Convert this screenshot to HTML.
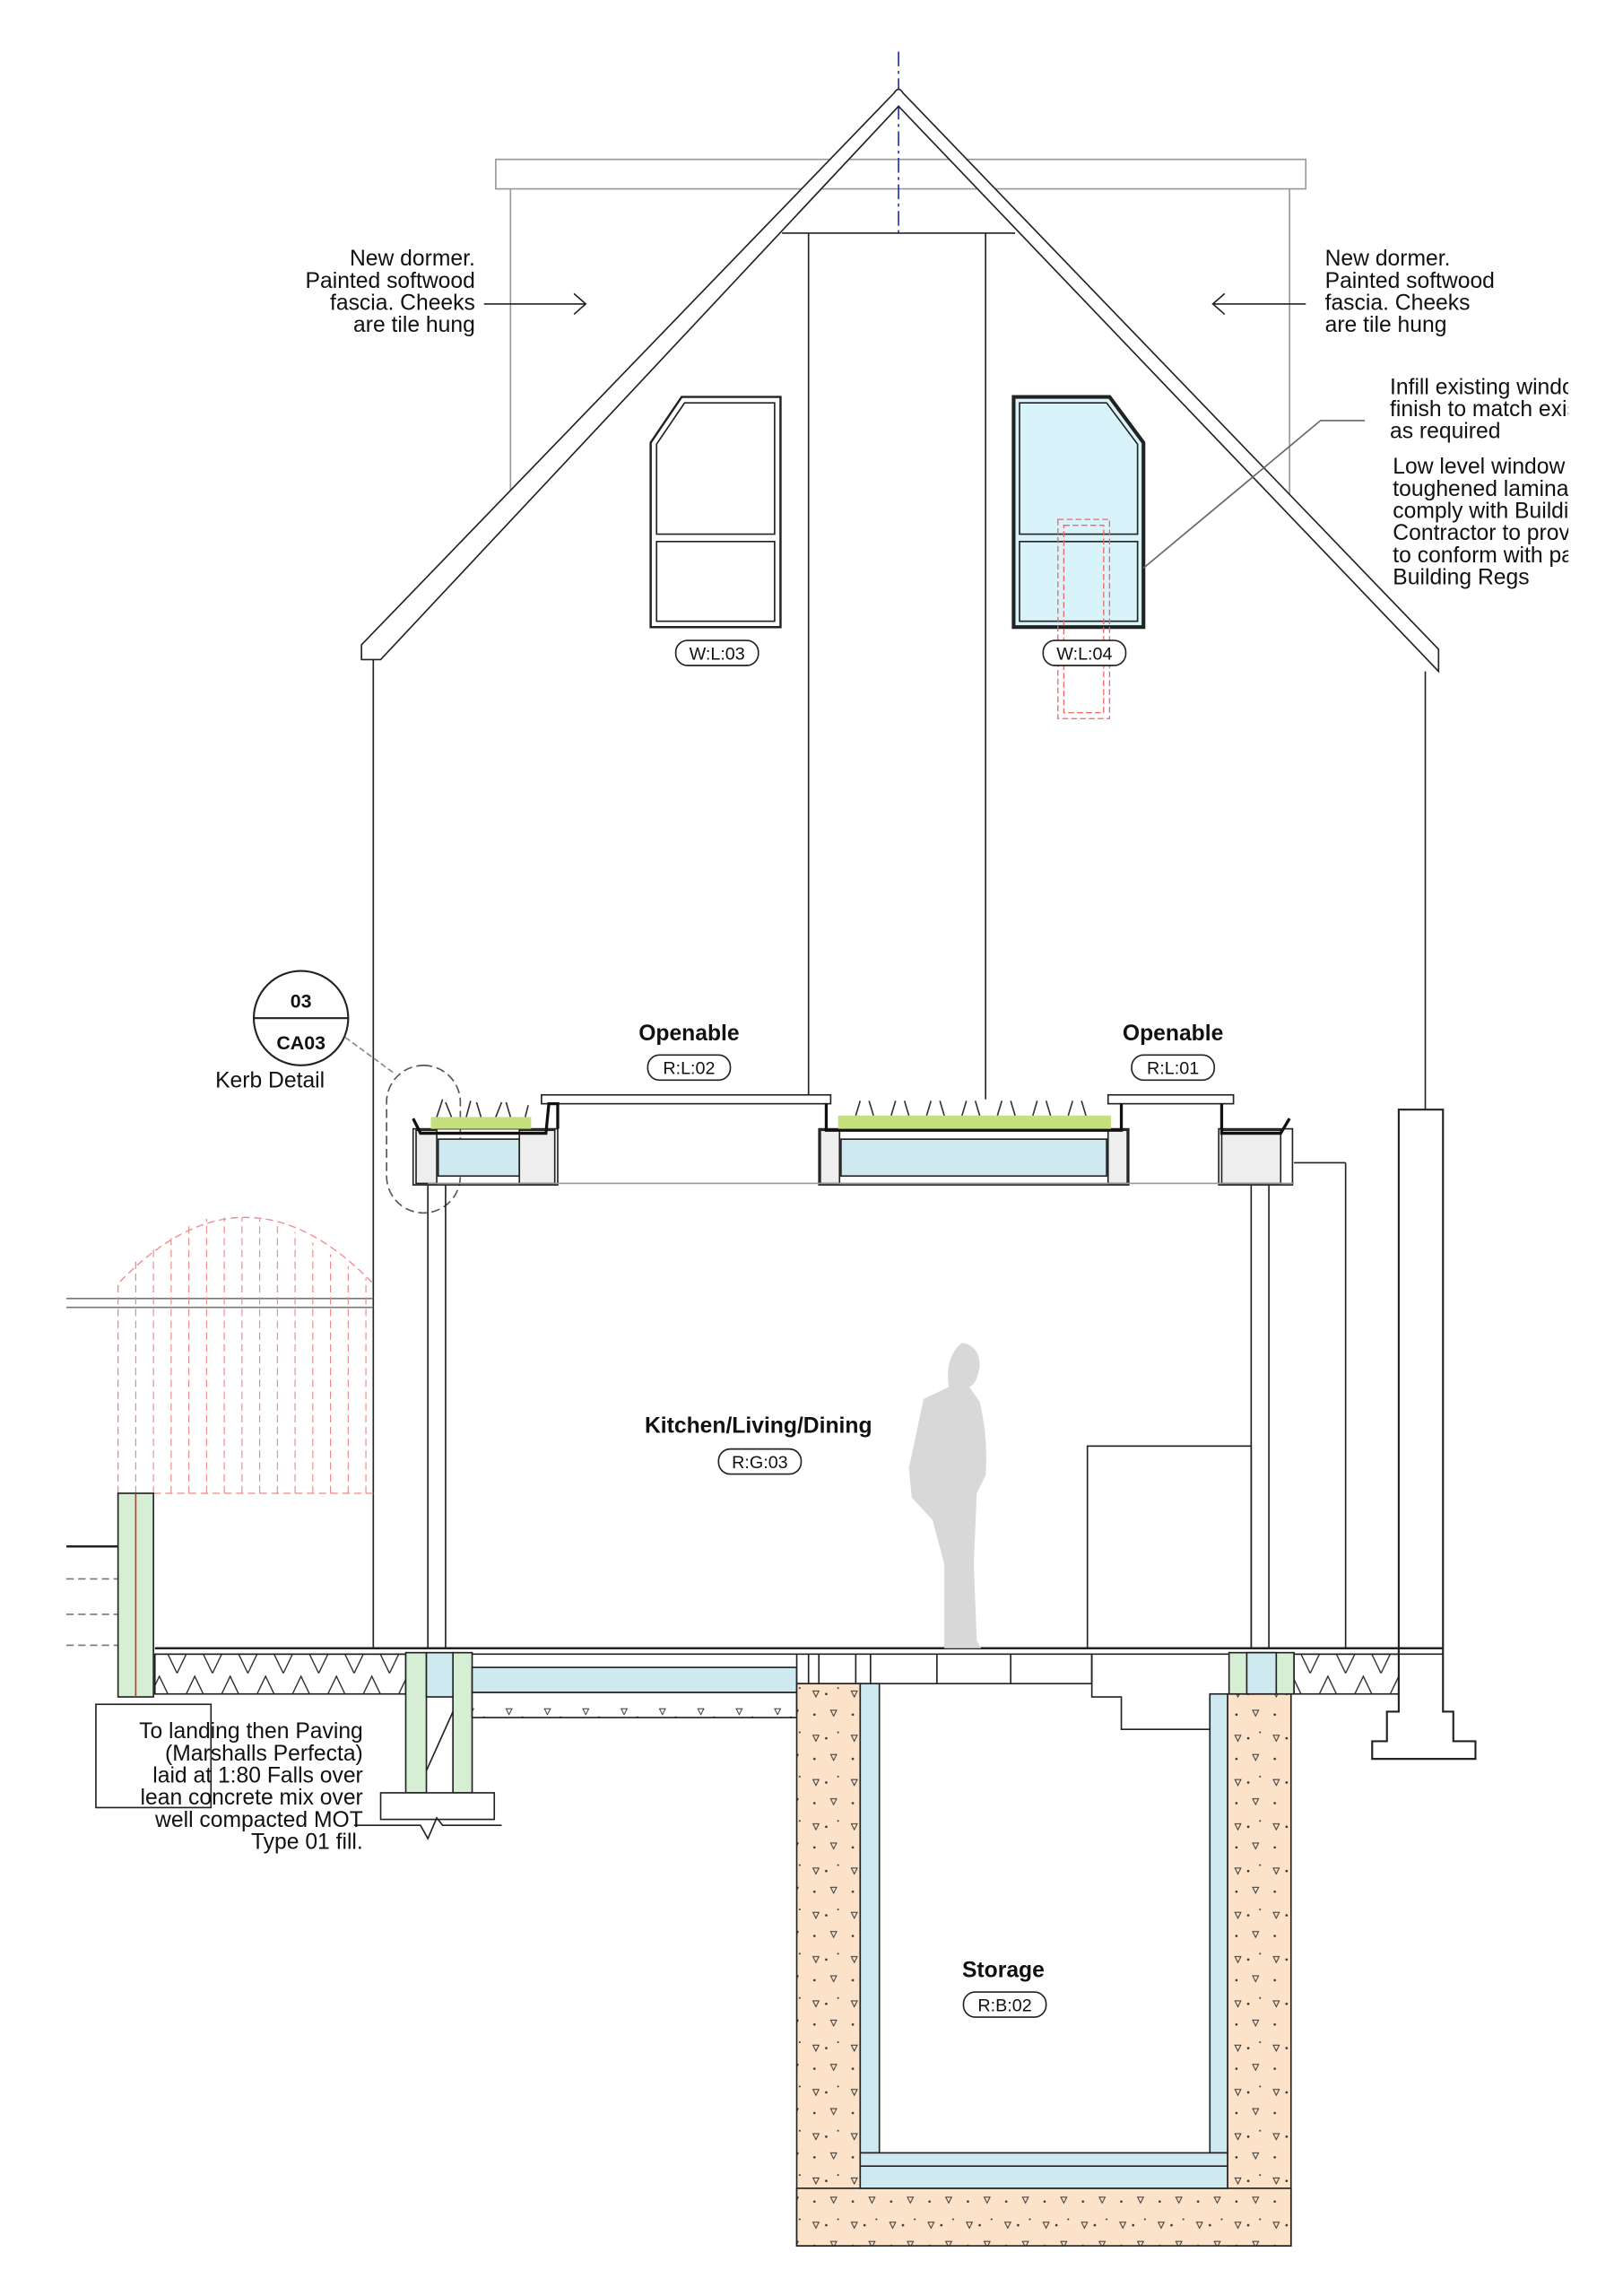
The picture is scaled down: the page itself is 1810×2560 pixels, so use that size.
<!DOCTYPE html>
<html><head><meta charset="utf-8"><style>
html,body{margin:0;padding:0;background:#fff;}
svg{display:block;}
text{font-family:"Liberation Sans Narrow","Liberation Sans",sans-serif;fill:#111;}
.b{font-weight:bold;}
</style></head><body>
<svg width="1810" height="2560" viewBox="0 0 1100 1556" preserveAspectRatio="none" xmlns="http://www.w3.org/2000/svg">
<defs>
<clipPath id="cr"><rect x="0" y="0" width="1063" height="1556"/></clipPath>
<pattern id="zz" width="24" height="27" patternUnits="userSpaceOnUse"><path d="M0 27 L12 2 L24 27" fill="none" stroke="#222" stroke-width="0.8"/></pattern>
<pattern id="conc" width="26" height="30" patternUnits="userSpaceOnUse"><rect width="26" height="30" fill="#fbe2c8"/><path d="M5 6 l4 0 l-2 4z M17 19 l4 0 l-2 4z" fill="none" stroke="#333" stroke-width="0.6"/><circle cx="14" cy="8" r="0.8" fill="#333"/><circle cx="6" cy="22" r="0.8" fill="#333"/><circle cx="22" cy="4" r="0.6" fill="#333"/></pattern>
<pattern id="conc2" width="26" height="18" patternUnits="userSpaceOnUse"><rect width="26" height="18" fill="#fff"/><path d="M5 6 l4 0 l-2 4z" fill="none" stroke="#333" stroke-width="0.6"/><circle cx="16" cy="12" r="0.8" fill="#333"/></pattern>
</defs>
<g fill="none" stroke="#222" stroke-width="1">
<!-- background parapet -->
<rect x="336" y="108" width="549" height="20" stroke="#999"/>
<line x1="346" y1="128" x2="346" y2="335" stroke="#999"/>
<line x1="874" y1="128" x2="874" y2="335" stroke="#999"/>
<!-- centre line -->
<line x1="609" y1="35" x2="609" y2="158" stroke="#2233aa" stroke-dasharray="10 3 2 3"/>
<!-- roof -->
<path d="M245 437 L606 63 Q609 58 612 63 L975 440 L975 455 L609 72 L258 447 L245 447 Z" fill="#fff"/>
<!-- dormer -->
<line x1="530" y1="158" x2="688" y2="158"/>
<line x1="548" y1="158" x2="548" y2="745"/>
<line x1="668" y1="158" x2="668" y2="745"/>
<!-- walls -->
<line x1="253" y1="447" x2="253" y2="1117"/>
<line x1="966" y1="455" x2="966" y2="752"/>
<!-- windows -->
<path d="M441 300 L462 269 L529 269 L529 425 L441 425 Z" stroke-width="1.5"/>
<path d="M445 301 L464 273 L525 273 L525 362 L445 362 Z"/>
<rect x="445" y="367" width="80" height="54"/>
<path d="M687 269 L752 269 L775 300 L775 425 L687 425 Z" fill="#d9f3fb" stroke-width="2.5"/>
<path d="M691 273 L750 273 L771 301 L771 362 L691 362 Z"/>
<rect x="691" y="367" width="80" height="54"/>
<rect x="717" y="352" width="35" height="135" stroke="#e66" stroke-dasharray="4 2" stroke-width="0.8"/>
<rect x="721" y="356" width="27" height="127" stroke="#e66" stroke-dasharray="4 2" stroke-width="0.8"/>
<rect x="458" y="434" width="56" height="17" rx="8"/>
<rect x="707" y="434" width="56" height="17" rx="8" fill="#fff"/>
<!-- arrows -->
<line x1="328" y1="206" x2="397" y2="206"/><path d="M389 199 L397 206 L389 213"/>
<line x1="885" y1="206" x2="822" y2="206"/><path d="M830 199 L822 206 L830 213"/>
<path d="M775 385 L895 285 L925 285" stroke="#666"/>
<!-- section marker -->
<circle cx="204" cy="690" r="32" stroke-width="1.3"/>
<line x1="172" y1="690" x2="236" y2="690" stroke-width="1.3"/>
<line x1="234" y1="703" x2="268" y2="728" stroke="#888" stroke-dasharray="4 2"/>
<rect x="262" y="722" width="50" height="100" rx="25" stroke="#555" stroke-dasharray="6 3"/>
<rect x="439" y="715" width="56" height="17" rx="8"/>
<rect x="767" y="715" width="56" height="17" rx="8"/>
<!-- rooflights -->
<rect x="367" y="742" width="196" height="6" fill="#fff"/>
<rect x="751" y="742" width="85" height="6" fill="#fff"/>
<!-- green roofs -->
<rect x="280" y="765" width="98" height="38"/>
<rect x="297" y="772" width="55" height="25" fill="#cfe9f1"/>
<rect x="352" y="766" width="24" height="36" fill="#eee"/>
<rect x="282" y="766" width="14" height="36" fill="#eee"/>
<rect x="555" y="765" width="210" height="38"/>
<rect x="570" y="772" width="180" height="25" fill="#cfe9f1"/>
<rect x="556" y="766" width="13" height="36" fill="#eee"/>
<rect x="751" y="766" width="13" height="36" fill="#eee"/>
<rect x="826" y="765" width="50" height="38"/>
<rect x="828" y="766" width="40" height="36" fill="#eee"/>
<path d="M280 758 L285 768 L370 768 L372 748 L378 748 L378 765" stroke="#111" stroke-width="2"/>
<path d="M560 748 L560 766 L760 766 L760 748" stroke="#111" stroke-width="2"/>
<path d="M828 748 L828 768 L868 768 L874 758" stroke="#111" stroke-width="2"/>
<rect x="292" y="757" width="68" height="8" fill="#c5e07e" stroke="none"/>
<rect x="568" y="756" width="185" height="9" fill="#c5e07e" stroke="none"/>
<path d="M296 757 l4 -12 M306 757 l-4 -10 M316 757 l3 -11 M326 757 l-3 -10 M336 757 l4 -10 M346 757 l-3 -10 M356 757 l2 -8" stroke="#333"/>
<path d="M580 756 l3 -10 M592 756 l-3 -10 M604 756 l3 -10 M616 756 l-3 -10 M628 756 l3 -10 M640 756 l-3 -10 M652 756 l3 -10 M664 756 l-3 -10 M676 756 l3 -10 M688 756 l-3 -10 M700 756 l3 -10 M712 756 l-3 -10 M724 756 l3 -10 M736 756 l-3 -10" stroke="#333"/>
<!-- ceiling -->
<line x1="290" y1="802" x2="877" y2="802" stroke="#999"/>
<!-- internal walls -->
<line x1="290" y1="803" x2="290" y2="1117"/><line x1="302" y1="803" x2="302" y2="1117"/>
<line x1="848" y1="803" x2="848" y2="1117"/><line x1="860" y1="803" x2="860" y2="1117"/>
<!-- right structures -->
<line x1="877" y1="788" x2="912" y2="788"/>
<line x1="912" y1="788" x2="912" y2="1117"/>
<path d="M948 752 L978 752 L978 1160 L985 1160 L985 1180 L1000 1180 L1000 1192 L930 1192 L930 1180 L940 1180 L940 1160 L948 1160 Z" stroke-width="1.3"/>
<rect x="737" y="980" width="111" height="137"/>
<!-- fence & arch -->
<line x1="45" y1="880" x2="253" y2="880" stroke="#777"/>
<line x1="45" y1="886" x2="253" y2="886" stroke="#777"/>
<path d="M80 1012 L80 870 Q166 780 253 870" stroke="#e88" stroke-dasharray="5 3" stroke-width="0.8"/>
<line x1="80" y1="1012" x2="253" y2="1012" stroke="#e88" stroke-dasharray="5 3" stroke-width="0.8"/>
<path d="M92 1012V855 M104 1012V845 M116 1012V836 M128 1012V830 M140 1012V826 M152 1012V825 M164 1012V825 M176 1012V826 M188 1012V830 M200 1012V835 M212 1012V842 M224 1012V850 M236 1012V858 M248 1012V866" stroke="#e88" stroke-dasharray="5 3" stroke-width="0.7"/>
<line x1="45" y1="1048" x2="80" y2="1048" stroke-width="1.5"/>
<path d="M45 1070H80 M45 1094H80 M45 1115H80" stroke="#777" stroke-dasharray="5 3"/>
<rect x="80" y="1012" width="24" height="138" fill="#d6eed3"/>
<line x1="92" y1="1012" x2="92" y2="1150" stroke="#c33"/>
<!-- floor -->
<line x1="105" y1="1117" x2="978" y2="1117" stroke-width="1.5"/>
<line x1="105" y1="1121" x2="978" y2="1121"/>
<rect x="105" y="1121" width="170" height="27" fill="url(#zz)"/>
<rect x="877" y="1121" width="71" height="27" fill="url(#zz)"/>
<!-- left foundation -->
<rect x="275" y="1120" width="14" height="95" fill="#d6eed3"/>
<rect x="307" y="1120" width="13" height="95" fill="#d6eed3"/>
<rect x="289" y="1120" width="18" height="30" fill="#cfe9f1"/>
<path d="M289 1200 L307 1160"/>
<rect x="258" y="1215" width="77" height="18" fill="#fff"/>
<path d="M240 1237 L285 1237 L290 1246 L296 1232 L300 1237 L340 1237"/>
<!-- slab -->
<rect x="320" y="1130" width="220" height="17" fill="#cfe9f1"/>
<rect x="320" y="1147" width="220" height="17" fill="url(#conc2)"/>
<!-- floor structure over basement -->
<rect x="540" y="1121" width="200" height="20" fill="#fff"/>
<path d="M548 1121V1141 M555 1121V1141 M580 1121V1141 M590 1121V1141 M635 1121V1141 M685 1121V1141 M740 1121V1141"/>
<path d="M740 1121 L740 1150 L760 1150 L760 1172 L820 1172 L820 1150 L833 1150"/>
<!-- basement -->
<rect x="540" y="1141" width="43" height="381" fill="url(#conc)"/>
<rect x="832" y="1148" width="43" height="374" fill="url(#conc)"/>
<rect x="540" y="1483" width="335" height="39" fill="url(#conc)"/>
<rect x="583" y="1141" width="13" height="318" fill="#cfe9f1"/>
<rect x="820" y="1148" width="12" height="311" fill="#cfe9f1"/>
<rect x="583" y="1459" width="249" height="24" fill="#cfe9f1"/>
<line x1="583" y1="1468" x2="832" y2="1468"/>
<rect x="833" y="1120" width="44" height="28" fill="#d6eed3"/>
<rect x="845" y="1120" width="20" height="28" fill="#cfe9f1"/>
<!-- pills -->
<rect x="487" y="982" width="56" height="17" rx="8"/>
<rect x="653" y="1350" width="56" height="17" rx="8"/>
<rect x="65" y="1155" width="78" height="70"/>
</g>
<!-- person -->
<path d="M652 910 Q664 912 664 926 Q662 938 657 940 L664 950 Q670 975 668 1000 L662 1012 L660 1060 L662 1112 L665 1117 L640 1117 L640 1060 L632 1030 L618 1015 L616 995 L626 948 L643 940 Q640 920 652 910 Z" fill="#d8d8d8"/>
<!-- texts -->
<g font-size="15" text-anchor="end">
<text x="322" y="180">New dormer.</text><text x="322" y="195">Painted softwood</text><text x="322" y="210">fascia.  Cheeks</text><text x="322" y="225">are tile hung</text>
<text x="246" y="1178">To landing then Paving</text><text x="246" y="1193">(Marshalls Perfecta)</text><text x="246" y="1208">laid at 1:80 Falls over</text><text x="246" y="1223">lean concrete mix over</text><text x="246" y="1238">well compacted MOT</text><text x="246" y="1253">Type 01 fill.</text>
</g>
<g font-size="15">
<text x="898" y="180">New dormer.</text><text x="898" y="195">Painted softwood</text><text x="898" y="210">fascia.  Cheeks</text><text x="898" y="225">are tile hung</text>
<g clip-path="url(#cr)">
<text x="942" y="267">Infill existing window</text><text x="942" y="282">finish to match existing</text><text x="942" y="297">as required</text>
<text x="944" y="321">Low level window</text><text x="944" y="336">toughened laminated</text><text x="944" y="351">comply with Building</text><text x="944" y="366">Contractor to provide</text><text x="944" y="381">to conform with part</text><text x="944" y="396">Building Regs</text>
</g>
<text x="183" y="737" text-anchor="middle">Kerb Detail</text>
</g>
<g font-size="12" text-anchor="middle">
<text x="486" y="447">W:L:03</text><text x="735" y="447">W:L:04</text>
<text x="467" y="728">R:L:02</text><text x="795" y="728">R:L:01</text>
<text x="515" y="995">R:G:03</text><text x="681" y="1363">R:B:02</text>
</g>
<g font-size="15" text-anchor="middle" class="b">
<text x="467" y="705" class="b">Openable</text><text x="795" y="705" class="b">Openable</text>
<text x="514" y="971" class="b">Kitchen/Living/Dining</text>
<text x="680" y="1340" class="b">Storage</text>
<text x="204" y="683" font-size="13" class="b">03</text><text x="204" y="711" font-size="13" class="b">CA03</text>
</g>
</svg>
</body></html>
